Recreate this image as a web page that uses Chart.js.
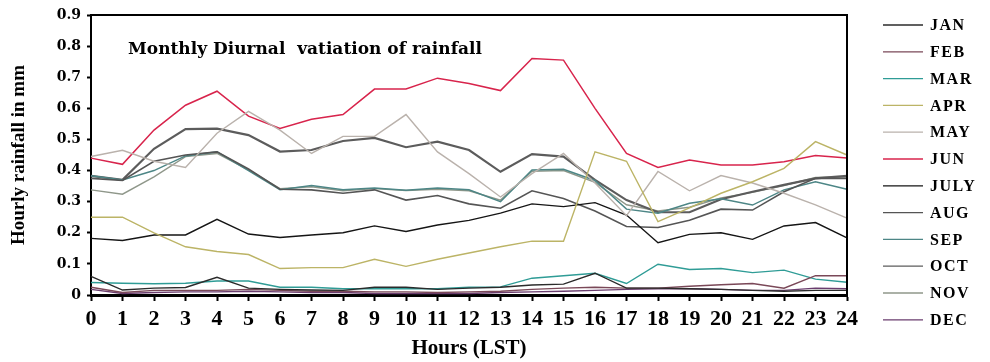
<!DOCTYPE html>
<html>
<head>
<meta charset="utf-8">
<script src="https://cdn.jsdelivr.net/npm/chart.js@4.4.1/dist/chart.umd.min.js"></script>
<style>
  html, body { margin: 0; padding: 0; background: #fff; }
</style>
</head>
<body>
<canvas id="chart" width="990" height="362"></canvas>
<script>
// hours of the day (LST)
const hours = ['0','1','2','3','4','5','6','7','8','9','10','11','12',
               '13','14','15','16','17','18','19','20','21','22','23','24'];

const months = ['JAN','FEB','MAR','APR','MAY','JUN','JULY','AUG','SEP','OCT','NOV','DEC'];

// hourly rainfall (mm)
const jan  = [0.060,0.016,0.022,0.024,0.057,0.022,0.018,0.016,0.015,0.025,0.025,0.018,0.022,0.025,0.032,0.035,0.070,0.022,0.022,0.020,0.018,0.015,0.012,0.015,0.015];
const feb  = [0.025,0.008,0.015,0.015,0.015,0.018,0.015,0.012,0.012,0.010,0.010,0.008,0.010,0.012,0.018,0.022,0.025,0.022,0.022,0.028,0.033,0.037,0.022,0.062,0.062];
const mar  = [0.040,0.038,0.036,0.038,0.045,0.045,0.025,0.025,0.020,0.020,0.020,0.020,0.025,0.026,0.054,0.062,0.070,0.037,0.099,0.082,0.085,0.072,0.080,0.051,0.041];
const apr  = [0.250,0.250,0.200,0.155,0.140,0.130,0.085,0.088,0.088,0.115,0.092,0.115,0.135,0.155,0.173,0.173,0.460,0.430,0.236,0.280,0.327,0.364,0.407,0.493,0.450];
const may  = [0.445,0.465,0.430,0.410,0.520,0.590,0.530,0.455,0.510,0.510,0.580,0.460,0.390,0.315,0.390,0.455,0.360,0.255,0.397,0.335,0.384,0.360,0.327,0.290,0.247];
const jun  = [0.440,0.420,0.530,0.610,0.655,0.575,0.535,0.565,0.580,0.662,0.662,0.697,0.680,0.657,0.760,0.755,0.600,0.455,0.410,0.434,0.418,0.418,0.428,0.448,0.440];
const jul  = [0.182,0.175,0.193,0.193,0.243,0.196,0.185,0.193,0.200,0.222,0.204,0.225,0.240,0.263,0.293,0.284,0.297,0.257,0.168,0.195,0.200,0.179,0.222,0.233,0.184];
const aug  = [0.375,0.368,0.430,0.450,0.460,0.405,0.340,0.338,0.327,0.338,0.305,0.320,0.293,0.279,0.335,0.310,0.270,0.220,0.217,0.240,0.276,0.273,0.332,0.375,0.375];
const sep  = [0.383,0.370,0.400,0.447,0.460,0.400,0.338,0.352,0.338,0.344,0.337,0.344,0.338,0.300,0.402,0.404,0.368,0.276,0.263,0.295,0.309,0.289,0.338,0.364,0.340];
const oct  = [0.383,0.370,0.470,0.533,0.535,0.514,0.461,0.466,0.495,0.505,0.475,0.493,0.466,0.396,0.453,0.445,0.370,0.305,0.266,0.266,0.308,0.332,0.354,0.375,0.383];
const nov  = [0.338,0.324,0.380,0.445,0.455,0.402,0.342,0.348,0.335,0.342,0.336,0.340,0.335,0.305,0.398,0.400,0.362,0.290,0.270,0.282,0.312,0.330,0.352,0.378,0.380];
const dec  = [0.018,0.005,0.008,0.010,0.010,0.012,0.010,0.008,0.008,0.005,0.005,0.005,0.005,0.008,0.010,0.012,0.015,0.018,0.020,0.020,0.018,0.015,0.015,0.022,0.020];

const series = [jan, feb, mar, apr, may, jun, jul, aug, sep, oct, nov, dec];
const colors = ['#2b2b2b','#7a4858','#2f9c96','#bcb466','#bab2ac','#d8244c',
                '#151515','#555555','#4d8686','#5c5c5c','#8f978a','#6a3d6e'];
const widths = [1.4,1.4,1.4,1.4,1.4,1.5,1.4,1.6,1.5,2.2,1.4,1.4];

const serif = 'Liberation Serif, Times New Roman, serif';
const wide = 'DejaVu Serif, serif';

// top/right frame of the plot box
const framePlugin = {
    id: 'frame',
    afterDraw(chart) {
        const {ctx, chartArea: a} = chart;
        ctx.save();
        ctx.strokeStyle = '#000';
        ctx.lineWidth = 2;
        ctx.beginPath();
        ctx.moveTo(a.left, a.top);
        ctx.lineTo(a.right, a.top);
        ctx.lineTo(a.right, a.bottom);
        ctx.stroke();
        ctx.restore();
    }
};

// title sits inside the plot
const innerTitle = {
    id: 'innerTitle',
    afterDraw(chart) {
        const {ctx, chartArea: a} = chart;
        ctx.save();
        ctx.fillStyle = '#000';
        ctx.font = 'bold 17px ' + wide;
        ctx.textBaseline = 'alphabetic';
        ctx.fillText('Monthly Diurnal  vatiation of rainfall', a.left + 37, a.top + 39);
        ctx.restore();
    }
};

// legend at the right, one row per month
const sideLegend = {
    id: 'sideLegend',
    afterDraw(chart) {
        const ctx = chart.ctx;
        const x0 = chart.chartArea.right + 36;
        ctx.save();
        ctx.font = 'bold 16px ' + serif;
        ctx.textBaseline = 'middle';
        if ('letterSpacing' in ctx) ctx.letterSpacing = '1.5px';
        chart.data.datasets.forEach((ds, i) => {
            const y = 25 + i * 26.8;
            ctx.strokeStyle = ds.borderColor;
            ctx.lineWidth = 1.3;
            ctx.beginPath();
            ctx.moveTo(x0, y);
            ctx.lineTo(x0 + 40, y);
            ctx.stroke();
            ctx.fillStyle = '#000';
            ctx.fillText(ds.label, x0 + 47, y + 1);
        });
        ctx.restore();
    }
};

new Chart(document.getElementById('chart'), {
    type: 'line',
    data: {
        labels: hours,
        datasets: series.map((s, i) => ({
            label: months[i],
            data: s,
            borderColor: colors[i],
            backgroundColor: colors[i],
            borderWidth: widths[i],
            pointRadius: 0,
            tension: 0,
            fill: false
        }))
    },
    options: {
        responsive: false,
        animation: false,
        layout: { padding: { left: 0, right: 143, top: 15, bottom: 0 } },
        plugins: {
            legend: { display: false },
            tooltip: { enabled: false }
        },
        scales: {
            x: {
                offset: false,
                grid: { display: true, drawOnChartArea: false, drawTicks: true,
                        tickLength: 6, tickWidth: 2, tickColor: '#000' },
                border: { display: true, color: '#000', width: 3 },
                ticks: { color: '#000', padding: 5, maxRotation: 0, autoSkip: false,
                         font: { family: serif, size: 22, weight: 'bold' } },
                title: { display: true, text: 'Hours (LST)', color: '#000',
                         font: { family: serif, size: 21, weight: 'bold' },
                         padding: { top: 0, bottom: 1 } },
                afterFit(s) { s.height = 67; }
            },
            y: {
                min: 0,
                max: 0.9,
                grid: { display: true, drawOnChartArea: false, drawTicks: true,
                        tickLength: 4, tickWidth: 2, tickColor: '#000' },
                border: { display: true, color: '#000', width: 2 },
                ticks: { stepSize: 0.1, color: '#000', padding: 6,
                         font: { family: wide, size: 14, weight: 'bold' },
                         callback: v => v === 0 ? '0' : v.toFixed(1) },
                title: { display: true, text: 'Hourly rainfall in mm', color: '#000',
                         font: { family: serif, size: 19, weight: 'bold' },
                         padding: { top: 8, bottom: 0 } },
                afterFit(s) { s.width = 91; }
            }
        }
    },
    plugins: [framePlugin, innerTitle, sideLegend]
});
</script>
</body>
</html>
